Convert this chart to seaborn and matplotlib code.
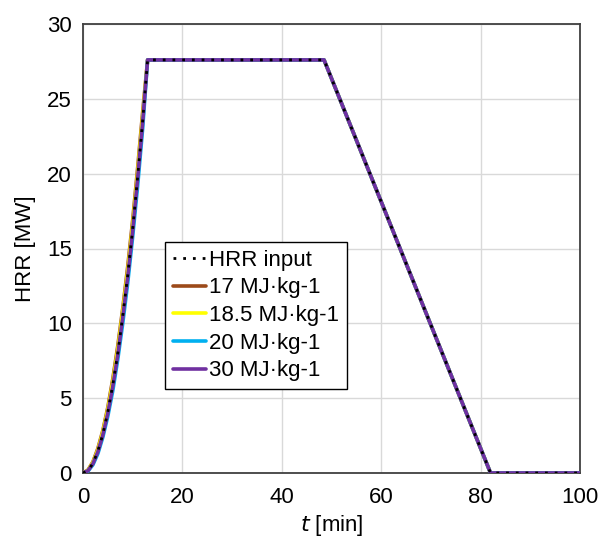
import matplotlib
matplotlib.use("Agg")
import matplotlib.pyplot as plt
import seaborn as sns
import pandas as pd

# ---- data ----
t_input = [0, 1, 2, 3, 4, 5, 6, 7, 8, 9, 10, 11, 12, 13, 48.5, 82, 100]
hrr_input = [0, 0.16, 0.65, 1.47, 2.6, 4.1, 5.9, 8.0, 10.5, 13.2, 16.3, 19.8, 23.5, 27.6, 27.6, 0, 0]

t_fds = [0, 1, 2, 3, 4, 5, 6, 7, 8, 9, 10, 11, 12, 13, 48.5, 82, 100]
hrr_17 = [0, 0.2, 0.75, 1.65, 2.85, 4.4, 6.3, 8.5, 11.0, 13.8, 16.9, 20.4, 24.1, 27.6, 27.6, 0, 0]
hrr_185 = [0, 0.18, 0.7, 1.55, 2.75, 4.25, 6.1, 8.25, 10.8, 13.5, 16.6, 20.1, 23.8, 27.6, 27.6, 0, 0]
hrr_20 = [0, 0.12, 0.55, 1.3, 2.4, 3.8, 5.5, 7.6, 10.0, 12.7, 15.8, 19.2, 23.0, 27.6, 27.6, 0, 0]
hrr_30 = [0, 0.15, 0.62, 1.42, 2.55, 4.0, 5.8, 7.9, 10.4, 13.1, 16.2, 19.7, 23.4, 27.6, 27.6, 0, 0]

labels = ["HRR input", "17 MJ·kg-1", "18.5 MJ·kg-1", "20 MJ·kg-1", "30 MJ·kg-1"]
colors = ["black", "#9c4a1a", "#ffff00", "#00b0f0", "#7030a0"]

sns.set_theme(style="whitegrid")
plt.rcParams['font.family'] = ['Liberation Sans', 'DejaVu Sans']
plt.rcParams['text.color'] = 'black'
plt.rcParams['axes.labelcolor'] = 'black'

fig = plt.figure(figsize=(5.98, 5.38), dpi=100)
ax = fig.add_axes([83/598, 1 - 473/538, (580 - 83)/598, (473 - 24)/538])

df_in = pd.DataFrame({"t": t_input, "hrr": hrr_input})
sns.lineplot(data=df_in, x="t", y="hrr", ax=ax, color="black", linewidth=2.0,
             linestyle=(0, (1, 2.5)), label=labels[0], zorder=4)

series = [(t_fds, hrr_17), (t_fds, hrr_185), (t_fds, hrr_20), (t_fds, hrr_30)]
for (tt, yy), lab, col in zip(series, labels[1:], colors[1:]):
    df = pd.DataFrame({"t": tt, "hrr": yy})
    sns.lineplot(data=df, x="t", y="hrr", ax=ax, color=col, linewidth=2.6,
                 label=lab, zorder=3)

ax.set_xlim(0, 100)
ax.set_ylim(0, 30)
ax.set_xticks([0, 20, 40, 60, 80, 100])
ax.set_yticks([0, 5, 10, 15, 20, 25, 30])
ax.grid(True, color="#d9d9d9", linewidth=1)
for s in ax.spines.values():
    s.set_color("#404040")
    s.set_linewidth(1.3)
    s.set_visible(True)
ax.tick_params(axis="both", labelsize=16, colors="black", length=0)
ax.tick_params(axis="x", pad=10)
ax.tick_params(axis="y", pad=8)
ax.set_xlabel(r"$\it{t}$ [min]", fontsize=16, labelpad=4, color="black")
ax.set_ylabel("HRR [MW]", fontsize=16, labelpad=8, color="black")

h, l = ax.get_legend_handles_labels()
leg = ax.legend(h, l,
                loc="upper left", bbox_to_anchor=((165 - 83) / 497, (473 - 242) / 449),
                fontsize=16, frameon=True, fancybox=False, framealpha=1,
                edgecolor="black", handlelength=1.5, handletextpad=0.15,
                borderpad=0.35, labelspacing=0.3, borderaxespad=0)
leg.get_frame().set_linewidth(1.0)

fig.savefig("out.png", dpi=100)
